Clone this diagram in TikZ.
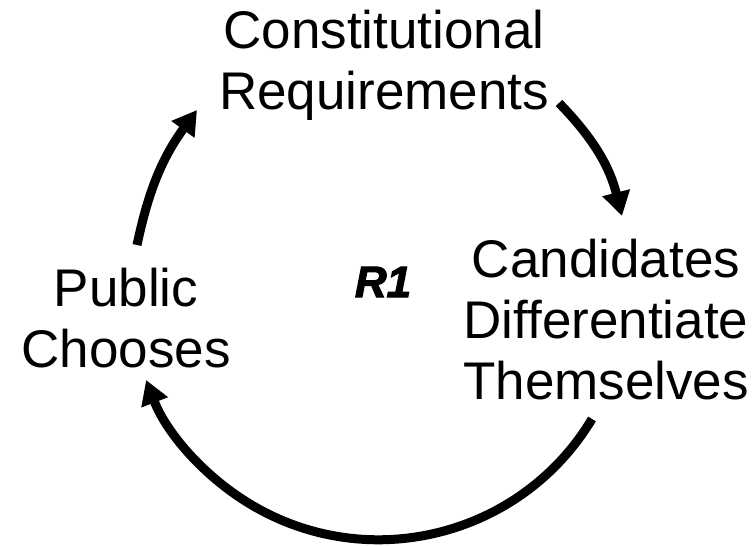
\documentclass[tikz,border=0pt]{standalone}
\usepackage{fontspec}
\setmainfont{Liberation Sans}
\newfontfamily\loopfont{Liberation Sans}[BoldItalicFeatures={FakeBold=2.5}]
\usetikzlibrary{arrows.meta}
\begin{document}
\begin{tikzpicture}[x=1pt,y=1pt,
  lbl/.style={inner sep=0pt,align=center,font=\fontsize{53}{61}\selectfont},
  loopname/.style={inner sep=0pt,font=\loopfont\fontsize{44}{48}\selectfont\bfseries\itshape},
  link/.style={line width=9pt,-{Triangle[width=27pt,length=24pt]}}]
\useasboundingbox (0,0) rectangle (753,546);
\node[lbl] (cr) at (384,481) {Constitutional\\Requirements};
\node[lbl] (cd) at (606,226) {Candidates\\Differentiate\\Themselves};
\node[lbl] (pc) at (126,228) {Public\\Chooses};
\node[loopname] (r1) at (383,264) {R1};
\coordinate (s1) at (559,443);
\coordinate (e1) at (622,330);
\coordinate (s3) at (137,301);
\coordinate (e3) at (197,436);
\coordinate (s2) at (592,127);
\draw[link] (s1) to[bend left=15] (e1);
\draw[link] (s2) arc[start angle=-31,end angle=-159,radius=249];
\draw[link] (s3) to[bend left=12] (e3);
\end{tikzpicture}
\end{document}
